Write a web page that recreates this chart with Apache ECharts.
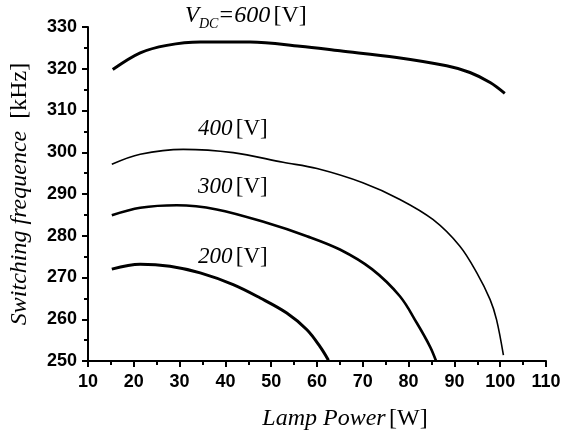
<!DOCTYPE html>
<html><head><meta charset="utf-8">
<script src="https://cdn.jsdelivr.net/npm/echarts@6/dist/echarts.min.js"></script>
<style>html,body{margin:0;padding:0;background:#fff}#c{width:563px;height:434px}</style>
</head><body><div id="c"></div>
<script>
var xTicks = [10,20,30,40,50,60,70,80,90,100,110];
var yTicks = [250,260,270,280,290,300,310,320,330];
var v600 = [[15.4,319.8],[21.4,323.8],[27.2,325.6],[34.5,326.4],[45.4,326.4],[56.3,325.4],[65,324.3],[77.4,322.7],[88.3,320.7],[93.4,319.1],[97.8,316.7],[101,314.1]];
var v400 = [[15.2,297.1],[21.4,299.5],[30.8,300.7],[41.7,299.9],[52.6,297.6],[60,296.1],[70,292.7],[78.1,288.7],[85.3,283.9],[91.2,277.5],[94.9,271.1],[97.8,264.7],[99.2,259.9],[100.7,251.4]];
var v300 = [[15.2,284.9],[21.4,286.7],[29.4,287.3],[38.1,286.3],[49,283.1],[57.8,279.9],[65,276.7],[72,272],[78.1,265.5],[81.8,259.1],[84.7,253.4],[86,250]];
var v200 = [[15.2,272.0],[21.4,273.2],[27.9,272.7],[34.5,271.1],[41.7,268.3],[47.6,265.1],[53.4,261.5],[57.8,257.5],[60.7,253.4],[62.5,250.2]];

var chart = echarts.init(document.getElementById('c'));
function ser(d, w){return {type:'line', data:d, smooth:0.35, symbol:'none', lineStyle:{color:'#000', width:w}, silent:true};}
var tickFont = {fontFamily:'Liberation Sans', fontSize:18, color:'#000', fontWeight:'bold'};
var serif = {fontFamily:'Liberation Serif', fontSize:24, color:'#000'};
chart.setOption({
  animation:false,
  backgroundColor:'#fff',
  grid:{left:88, right:17, top:27, bottom:73, outerBoundsMode:'none', containLabel:false},
  xAxis:{type:'value', min:xTicks[0], max:xTicks[xTicks.length-1], interval:10,
    axisLine:{lineStyle:{color:'#000', width:2}},
    axisTick:{length:6, lineStyle:{color:'#000', width:2}},
    minorTick:{show:true, splitNumber:2, length:4, lineStyle:{color:'#000', width:2}},
    splitLine:{show:false},
    axisLabel:Object.assign({margin:12}, tickFont),
    name:'{i|Lamp Power} {n|[W]}', nameLocation:'middle', nameGap:46,
    nameTextStyle:{padding:[0,0,0,56],
      rich:{i:Object.assign({fontStyle:'italic'}, serif), n:serif}}
  },
  yAxis:{type:'value', min:yTicks[0], max:yTicks[yTicks.length-1], interval:10,
    axisLine:{show:true, lineStyle:{color:'#000', width:2}},
    axisTick:{show:true, length:6, lineStyle:{color:'#000', width:2}},
    minorTick:{show:true, splitNumber:2, length:4, lineStyle:{color:'#000', width:2}},
    splitLine:{show:false},
    axisLabel:Object.assign({margin:11}, tickFont),
    name:'{i|Switching frequence}{n|  [kHz]}', nameLocation:'middle', nameGap:56,
    nameTextStyle:{rich:{i:Object.assign({fontStyle:'italic'}, serif), n:serif}}
  },
  series:[ser(v600,3), ser(v400,1.6), ser(v300,2.6), ser(v200,3)],
  graphic:[
    {type:'text', left:185, top:4, style:{text:'V', font:'italic 23px "Liberation Serif"', fill:'#000'}},
    {type:'text', left:199, top:17, style:{text:'DC', font:'italic 14px "Liberation Serif"', fill:'#000'}},
    {type:'text', left:218, top:4, style:{text:'{i|=600} {n|[V]}', rich:{i:{font:'italic 24px "Liberation Serif"', fill:'#000'}, n:{font:'24px "Liberation Serif"', fill:'#000'}}}},
    {type:'text', left:198, top:117, style:{text:'{i|400} {n|[V]}', rich:{i:{font:'italic 23px "Liberation Serif"', fill:'#000'}, n:{font:'23px "Liberation Serif"', fill:'#000'}}}},
    {type:'text', left:198, top:175, style:{text:'{i|300} {n|[V]}', rich:{i:{font:'italic 23px "Liberation Serif"', fill:'#000'}, n:{font:'23px "Liberation Serif"', fill:'#000'}}}},
    {type:'text', left:198, top:245, style:{text:'{i|200} {n|[V]}', rich:{i:{font:'italic 23px "Liberation Serif"', fill:'#000'}, n:{font:'23px "Liberation Serif"', fill:'#000'}}}}
  ]
});
</script></body></html>
